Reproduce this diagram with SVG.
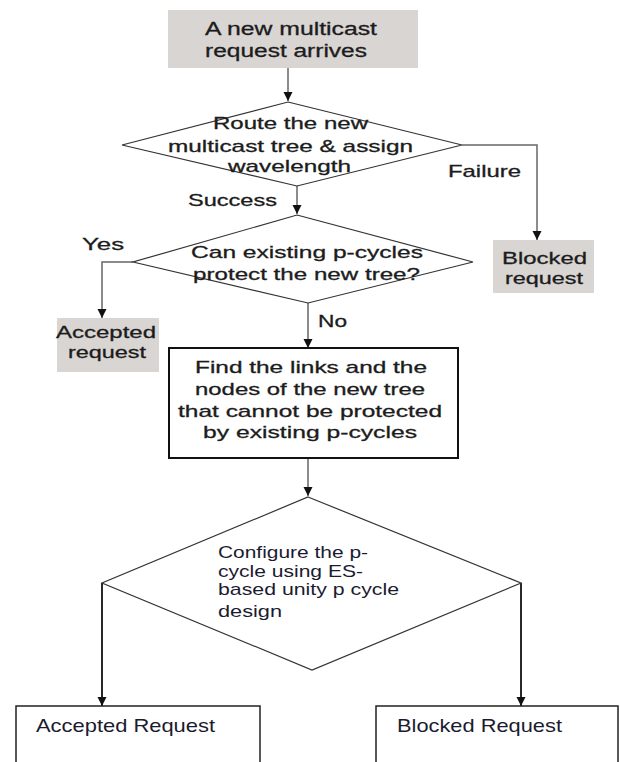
<svg xmlns="http://www.w3.org/2000/svg" width="620" height="762" viewBox="0 0 620 762">
<defs>
<marker id="arr" viewBox="0 0 10 10" refX="10" refY="5" markerWidth="9" markerHeight="11" markerUnits="userSpaceOnUse" orient="auto">
<path d="M0,0 L10,5 L0,10 z" fill="#111"/>
</marker>
</defs>
<style>
text{font-family:"Liberation Sans",Arial,sans-serif;fill:#1c1c1c;}
.t{font-size:17px;stroke:#1c1c1c;stroke-width:0.3;}
.s{font-size:17px;stroke:#1c1c1c;stroke-width:0.3;}
.b{font-size:17px;fill:#1b1b30;}
.gray{fill:#d9d5d3;stroke:none;}
.dia{fill:#fff;stroke:#333;stroke-width:1.2;}
.box{fill:#fff;stroke:#111;stroke-width:2;}
.obox{fill:#fff;stroke:#222;stroke-width:1.5;}
.c{fill:none;stroke:#666;stroke-width:1.5;}
.k{fill:none;stroke:#111;stroke-width:1.8;}
</style>
<rect width="620" height="762" fill="#fff"/>
<g id="connectors">
<path class="c" d="M288,68 L288,101" marker-end="url(#arr)"/>
<path class="c" d="M462,145 L537,145 L537,240" marker-end="url(#arr)"/>
<path class="c" d="M297,186 L297,214" marker-end="url(#arr)"/>
<path class="c" d="M133,262 L102,262 L102,318" marker-end="url(#arr)"/>
<path class="c" d="M308,303 L308,348" marker-end="url(#arr)"/>
<path class="c" d="M308,458 L308,496" marker-end="url(#arr)"/>
<path class="k" d="M102,583 L102,706" marker-end="url(#arr)"/>
<path class="k" d="M521,583 L521,706" marker-end="url(#arr)"/>
<text class="s" x="448" y="177" textLength="73" lengthAdjust="spacingAndGlyphs">Failure</text>
<text class="s" x="188" y="206" textLength="89" lengthAdjust="spacingAndGlyphs">Success</text>
<text class="s" x="82" y="250" textLength="42" lengthAdjust="spacingAndGlyphs">Yes</text>
<text class="s" x="318" y="327" textLength="29" lengthAdjust="spacingAndGlyphs">No</text>
</g>
<g id="start">
<rect class="gray" x="168" y="10" width="250" height="58"/>
<text class="t" x="205" y="35" textLength="172" lengthAdjust="spacingAndGlyphs" style="font-size:18px">A new multicast</text>
<text class="t" x="205" y="57" textLength="162" lengthAdjust="spacingAndGlyphs" style="font-size:18px">request arrives</text>
</g>
<g id="route">
<polygon class="dia" points="288,102 462,145 297,186 122,145"/>
<text class="t" x="213" y="129" textLength="155" lengthAdjust="spacingAndGlyphs">Route the new</text>
<text class="t" x="168" y="152" textLength="245" lengthAdjust="spacingAndGlyphs">multicast tree &amp; assign</text>
<text class="t" x="228" y="172" textLength="123" lengthAdjust="spacingAndGlyphs">wavelength</text>
</g>
<g id="blocked1">
<rect class="gray" x="493" y="240" width="101" height="53"/>
<text class="t" x="502" y="264" textLength="85" lengthAdjust="spacingAndGlyphs">Blocked</text>
<text class="t" x="505" y="284" textLength="78" lengthAdjust="spacingAndGlyphs">request</text>
</g>
<g id="canprotect">
<polygon class="dia" points="297,215 473,262 308,303 133,262"/>
<text class="t" x="191" y="258" textLength="232" lengthAdjust="spacingAndGlyphs">Can existing p-cycles</text>
<text class="t" x="193" y="280" textLength="227" lengthAdjust="spacingAndGlyphs">protect the new tree?</text>
</g>
<g id="accepted1">
<rect class="gray" x="57" y="318" width="102" height="54"/>
<text class="t" x="56" y="338" textLength="100" lengthAdjust="spacingAndGlyphs">Accepted</text>
<text class="t" x="68" y="358" textLength="78" lengthAdjust="spacingAndGlyphs">request</text>
</g>
<g id="findlinks">
<rect class="box" x="169" y="348" width="289" height="110"/>
<text class="t" x="195" y="373" textLength="232" lengthAdjust="spacingAndGlyphs">Find the links and the</text>
<text class="t" x="195" y="395" textLength="230" lengthAdjust="spacingAndGlyphs">nodes of the new tree</text>
<text class="t" x="178" y="417" textLength="264" lengthAdjust="spacingAndGlyphs">that cannot be protected</text>
<text class="t" x="203" y="438" textLength="214" lengthAdjust="spacingAndGlyphs">by existing p-cycles</text>
</g>
<g id="configure">
<polygon class="dia" points="308,497 521,583 312,670 102,583"/>
<text class="b" x="218" y="558" textLength="150" lengthAdjust="spacingAndGlyphs">Configure the p-</text>
<text class="b" x="218" y="577" textLength="145" lengthAdjust="spacingAndGlyphs">cycle using ES-</text>
<text class="b" x="218" y="595" textLength="181" lengthAdjust="spacingAndGlyphs">based unity p cycle</text>
<text class="b" x="218" y="617" textLength="64" lengthAdjust="spacingAndGlyphs">design</text>
</g>
<g id="accepted2">
<rect class="obox" x="16" y="706" width="244" height="70"/>
<text class="b" x="36" y="732" textLength="179" lengthAdjust="spacingAndGlyphs" style="font-size:19px">Accepted Request</text>
</g>
<g id="blocked2">
<rect class="obox" x="376" y="706" width="242" height="70"/>
<text class="b" x="397" y="732" textLength="165" lengthAdjust="spacingAndGlyphs" style="font-size:19px">Blocked Request</text>
</g>
</svg>
